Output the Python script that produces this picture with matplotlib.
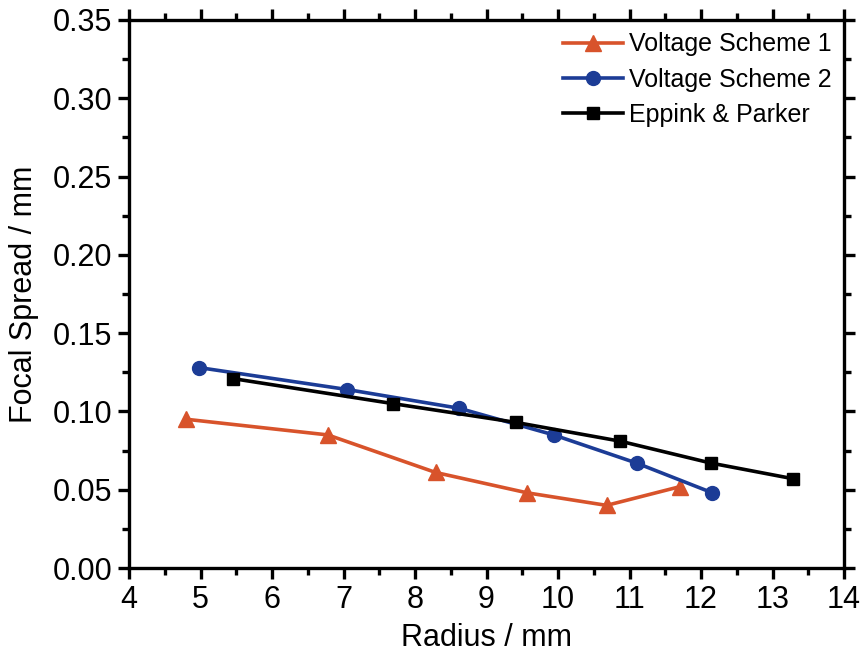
import matplotlib
matplotlib.use("Agg")
import matplotlib.pyplot as plt
from matplotlib.ticker import MultipleLocator

plt.rcParams['font.family'] = ['Liberation Sans', 'DejaVu Sans']

# data
r_vs1 = [4.80, 6.78, 8.29, 9.57, 10.68, 11.71]
fs_vs1 = [0.095, 0.085, 0.061, 0.048, 0.040, 0.052]

r_vs2 = [4.98, 7.05, 8.62, 9.94, 11.10, 12.16]
fs_vs2 = [0.128, 0.114, 0.102, 0.085, 0.067, 0.048]

r_ep = [5.45, 7.69, 9.41, 10.87, 12.14, 13.29]
fs_ep = [0.121, 0.105, 0.093, 0.081, 0.067, 0.057]

fig = plt.figure(figsize=(8.65, 6.53), dpi=100)
ax = fig.add_axes([129/865, 1 - 568/653, (844-129)/865, (568-20)/653])

ax.plot(r_vs1, fs_vs1, color='#d8532b', marker='^', markersize=11, lw=2.6, label='Voltage Scheme 1')
ax.plot(r_vs2, fs_vs2, color='#1c3c96', marker='o', markersize=10, lw=2.6, label='Voltage Scheme 2')
ax.plot(r_ep, fs_ep, color='black', marker='s', markersize=9, lw=2.6, label='Eppink & Parker')

ax.set_xlim(4, 14)
ax.set_ylim(0, 0.35)
ax.xaxis.set_major_locator(MultipleLocator(1))
ax.xaxis.set_minor_locator(MultipleLocator(0.5))
ax.yaxis.set_major_locator(MultipleLocator(0.05))
ax.yaxis.set_minor_locator(MultipleLocator(0.025))
ax.yaxis.set_major_formatter(plt.FormatStrFormatter('%.2f'))

for s in ax.spines.values():
    s.set_linewidth(2.4)
ax.tick_params(which='both', direction='out', top=True, right=True, width=2.4, labelsize=22, pad=4)
ax.tick_params(which='major', length=8)
ax.tick_params(which='minor', length=5)

ax.set_xlabel('Radius / mm', fontsize=22, labelpad=6)
ax.set_ylabel('Focal Spread / mm', fontsize=22, labelpad=10)

ax.legend(loc='upper right', frameon=False, fontsize=18, handlelength=2.4,
          handletextpad=0.25, labelspacing=0.45, borderaxespad=0.1)

plt.savefig("out.png", dpi=100)
